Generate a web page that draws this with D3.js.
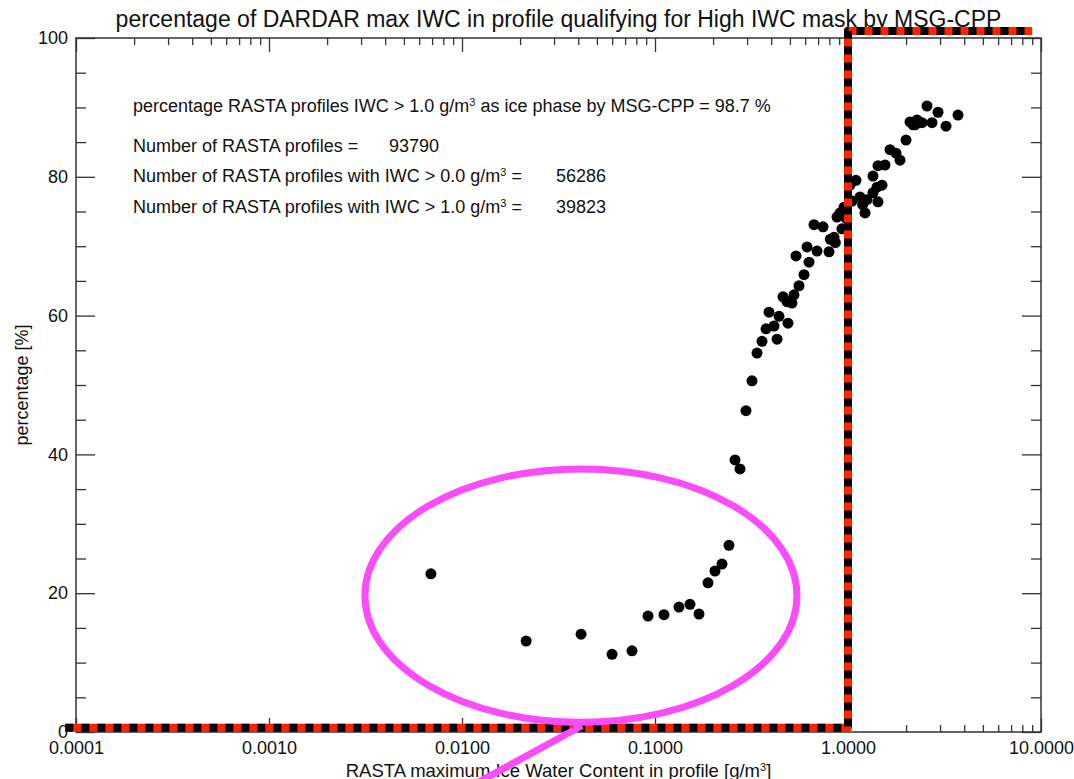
<!DOCTYPE html>
<meta charset="UTF-8">
<head>
<script src="https://cdnjs.cloudflare.com/ajax/libs/d3/7.8.5/d3.min.js"></script>
</head>
<style>
body { margin: 0; background: #fff; }
svg { font-family: "Liberation Sans", Arial, sans-serif; }
.axis line { stroke: #333; stroke-width: 1.3px; }
.axis text { font-size: 18px; fill: #111; font-family: "Liberation Sans", Arial, sans-serif; }
.frame { fill: none; stroke: #333; stroke-width: 1.5px; }
</style>
<body>
<div id="chart"></div>
<script>

// RASTA max IWC in profile [g/m3] and percentage flagged
var iwc = [
  0.0069, 0.0215, 0.0414, 0.0599, 0.0760, 0.0920, 0.1113, 0.1331, 0.1518, 0.1690,
  0.1882, 0.2046, 0.2224, 0.2417,
  0.2598, 0.2757, 0.2961, 0.3181, 0.3377, 0.3585, 0.3760, 0.3897, 0.4137, 0.4288,
  0.4391, 0.4605, 0.4888, 0.4830, 0.5126, 0.5250, 0.5573, 0.5916, 0.6282, 0.5377,
  0.6911, 0.7973, 0.6133, 0.6667, 0.7423, 0.8464, 0.8770, 0.9090, 0.9535, 0.9800,
  0.8100, 0.8600, 0.9300,
  1.024, 1.100, 1.154, 1.225, 1.254, 1.347, 1.413, 1.430, 1.500, 1.347,
  1.430, 1.555, 1.651, 1.773, 1.860, 1.998, 2.172, 2.095, 2.279, 2.418,
  2.724, 2.567, 2.927, 3.220, 3.715, 2.225, 1.050, 1.190
];
var pct = [
  22.8, 13.1, 14.1, 11.2, 11.7, 16.7, 16.9, 18.0, 18.4, 17.0,
  21.5, 23.2, 24.2, 26.9,
  39.2, 37.9, 46.3, 50.6, 54.6, 56.3, 58.1, 60.5, 58.5, 56.6,
  59.9, 62.7, 58.9, 62.0, 61.8, 63.0, 64.3, 65.9, 67.7, 68.6,
  69.3, 69.2, 69.9, 73.1, 72.8, 71.3, 74.2, 74.8, 75.6, 74.0,
  71.0, 70.5, 72.5,
  78.8, 79.5, 77.1, 74.8, 76.7, 77.7, 78.5, 76.4, 78.8, 80.1,
  81.6, 81.7, 83.9, 83.4, 82.4, 85.3, 87.5, 87.9, 88.2, 87.8,
  87.8, 90.2, 89.3, 87.3, 88.9, 87.5, 76.5, 76.0
];

// High IWC mask threshold step
var maskX = [0.000088, 1.0, 1.0, 9.0];
var maskY = [0.6, 0.6, 101, 101];

// highlight ellipse (data extents) and its pointer
var ringX = [0.00314, 0.544];
var ringY = [1.4, 37.9];
var tailX = [0.0418, 0.0115];
var tailY = [0.9, -7.6];

var xTicks = [0.0001, 0.001, 0.01, 0.1, 1, 10];
var yTicks = [0, 20, 40, 60, 80, 100];

var title = "percentage of DARDAR max IWC in profile qualifying for High IWC mask by MSG-CPP";
var infoLabels = ["percentage RASTA profiles IWC > 1.0 g/m|3| as ice phase by MSG-CPP = 98.7 %",
                  "Number of RASTA profiles =",
                  "Number of RASTA profiles with IWC > 0.0 g/m|3| =",
                  "Number of RASTA profiles with IWC > 1.0 g/m|3| ="];
var infoValues = ["", "93790", "56286", "39823"];

var W = 1074, H = 779;
var margin = {left: 76, right: 1041, top: 38, bottom: 732};

var svg = d3.select("#chart").append("svg")
    .attr("width", W).attr("height", H);

var x = d3.scaleLog().domain([0.0001, 10]).range([margin.left, margin.right]);
var y = d3.scaleLinear().domain([0, 100]).range([margin.bottom, margin.top]);

// minor ticks 2..9 per decade
var xMinor = [];
for (var e = -4; e < 1; e++) {
  for (var m = 2; m <= 9; m++) xMinor.push(m * Math.pow(10, e));
}
var yMinor = d3.range(0, 101, 5).filter(function(v) { return v % 20 !== 0; });

var fmt = d3.format(".4f");
function noDomain(g) { g.select(".domain").remove(); }

// bottom + top axes
svg.append("g").attr("class", "axis")
    .attr("transform", "translate(0," + margin.bottom + ")")
    .call(d3.axisBottom(x).tickValues(xTicks).tickFormat(fmt).tickSizeInner(-14).tickSizeOuter(0).tickPadding(9))
    .call(noDomain);
svg.append("g").attr("class", "axis")
    .attr("transform", "translate(0," + margin.bottom + ")")
    .call(d3.axisBottom(x).tickValues(xMinor).tickFormat("").tickSizeInner(-7).tickSizeOuter(0))
    .call(noDomain);
svg.append("g").attr("class", "axis")
    .attr("transform", "translate(0," + margin.top + ")")
    .call(d3.axisTop(x).tickValues(xTicks).tickFormat("").tickSizeInner(-14).tickSizeOuter(0))
    .call(noDomain);
svg.append("g").attr("class", "axis")
    .attr("transform", "translate(0," + margin.top + ")")
    .call(d3.axisTop(x).tickValues(xMinor).tickFormat("").tickSizeInner(-7).tickSizeOuter(0))
    .call(noDomain);

// left + right axes
svg.append("g").attr("class", "axis")
    .attr("transform", "translate(" + margin.left + ",0)")
    .call(d3.axisLeft(y).tickValues(yTicks).tickFormat(d3.format("d")).tickSizeInner(-19).tickSizeOuter(0).tickPadding(8))
    .call(noDomain);
svg.append("g").attr("class", "axis")
    .attr("transform", "translate(" + margin.left + ",0)")
    .call(d3.axisLeft(y).tickValues(yMinor).tickFormat("").tickSizeInner(-10).tickSizeOuter(0))
    .call(noDomain);
svg.append("g").attr("class", "axis")
    .attr("transform", "translate(" + margin.right + ",0)")
    .call(d3.axisRight(y).tickValues(yTicks).tickFormat("").tickSizeInner(-19).tickSizeOuter(0))
    .call(noDomain);
svg.append("g").attr("class", "axis")
    .attr("transform", "translate(" + margin.right + ",0)")
    .call(d3.axisRight(y).tickValues(yMinor).tickFormat("").tickSizeInner(-10).tickSizeOuter(0))
    .call(noDomain);

svg.append("rect").attr("class", "frame")
    .attr("x", margin.left).attr("y", margin.top)
    .attr("width", margin.right - margin.left).attr("height", margin.bottom - margin.top);

// writes "a|3|b" with superscript 3
function supText(sel, str) {
  var parts = str.split("|");
  parts.forEach(function(p, i) {
    if (i % 2 === 0) {
      sel.append("tspan").attr("dy", i === 0 ? 0 : 6).text(p);
    } else {
      sel.append("tspan").attr("dy", -6).style("font-size", "11px").text(p);
    }
  });
}

// title
svg.append("text")
    .attr("x", (margin.left + margin.right) / 2).attr("y", 27)
    .attr("text-anchor", "middle")
    .style("font-size", "23px").style("fill", "#111")
    .text(title);

// axis titles
var xt = svg.append("text")
    .attr("x", (margin.left + margin.right) / 2).attr("y", 777)
    .attr("text-anchor", "middle")
    .style("font-size", "18.5px").style("fill", "#111");
supText(xt, "RASTA maximum Ice Water Content in profile [g/m|3|]");

svg.append("text")
    .attr("transform", "translate(28," + ((margin.top + margin.bottom) / 2) + ") rotate(-90)")
    .attr("text-anchor", "middle")
    .style("font-size", "18px").style("fill", "#111")
    .text("percentage [%]");

// info block
var lineY = [112, 152, 182, 213];
infoLabels.forEach(function(s, i) {
  var t = svg.append("text")
      .attr("x", 133).attr("y", lineY[i])
      .style("font-size", "18px").style("fill", "#111");
  supText(t, s);
  if (infoValues[i]) {
    svg.append("text")
        .attr("x", i === 1 ? 389 : 556).attr("y", lineY[i])
        .style("font-size", "18px").style("fill", "#111")
        .text(infoValues[i]);
  }
});

// points
svg.append("g").selectAll("circle")
    .data(d3.range(iwc.length))
    .join("circle")
    .attr("cx", function(i) { return x(iwc[i]); })
    .attr("cy", function(i) { return y(pct[i]); })
    .attr("r", 5.5)
    .style("fill", "#000");

// mask step line: red with black dashes
var maskPts = maskX.map(function(v, i) { return [x(v), y(maskY[i])]; });
var line = d3.line();
svg.append("path").attr("d", line(maskPts))
    .style("fill", "none").style("stroke", "#ff2200").style("stroke-width", 8)
    .style("stroke-linejoin", "round");
svg.append("path").attr("d", line(maskPts))
    .style("fill", "none").style("stroke", "#000").style("stroke-width", 8)
    .style("stroke-dasharray", "8,8").style("stroke-linejoin", "round");

// magenta ring + pointer
var cx = (x(ringX[0]) + x(ringX[1])) / 2, cy = (y(ringY[0]) + y(ringY[1])) / 2;
svg.append("ellipse")
    .attr("cx", cx).attr("cy", cy)
    .attr("rx", (x(ringX[1]) - x(ringX[0])) / 2)
    .attr("ry", (y(ringY[0]) - y(ringY[1])) / 2)
    .style("fill", "none").style("stroke", "#fb4cfb").style("stroke-width", 7);
svg.append("line")
    .attr("x1", x(tailX[0])).attr("y1", y(tailY[0]))
    .attr("x2", x(tailX[1])).attr("y2", y(tailY[1]))
    .style("stroke", "#fb4cfb").style("stroke-width", 7);

</script>
</body>
